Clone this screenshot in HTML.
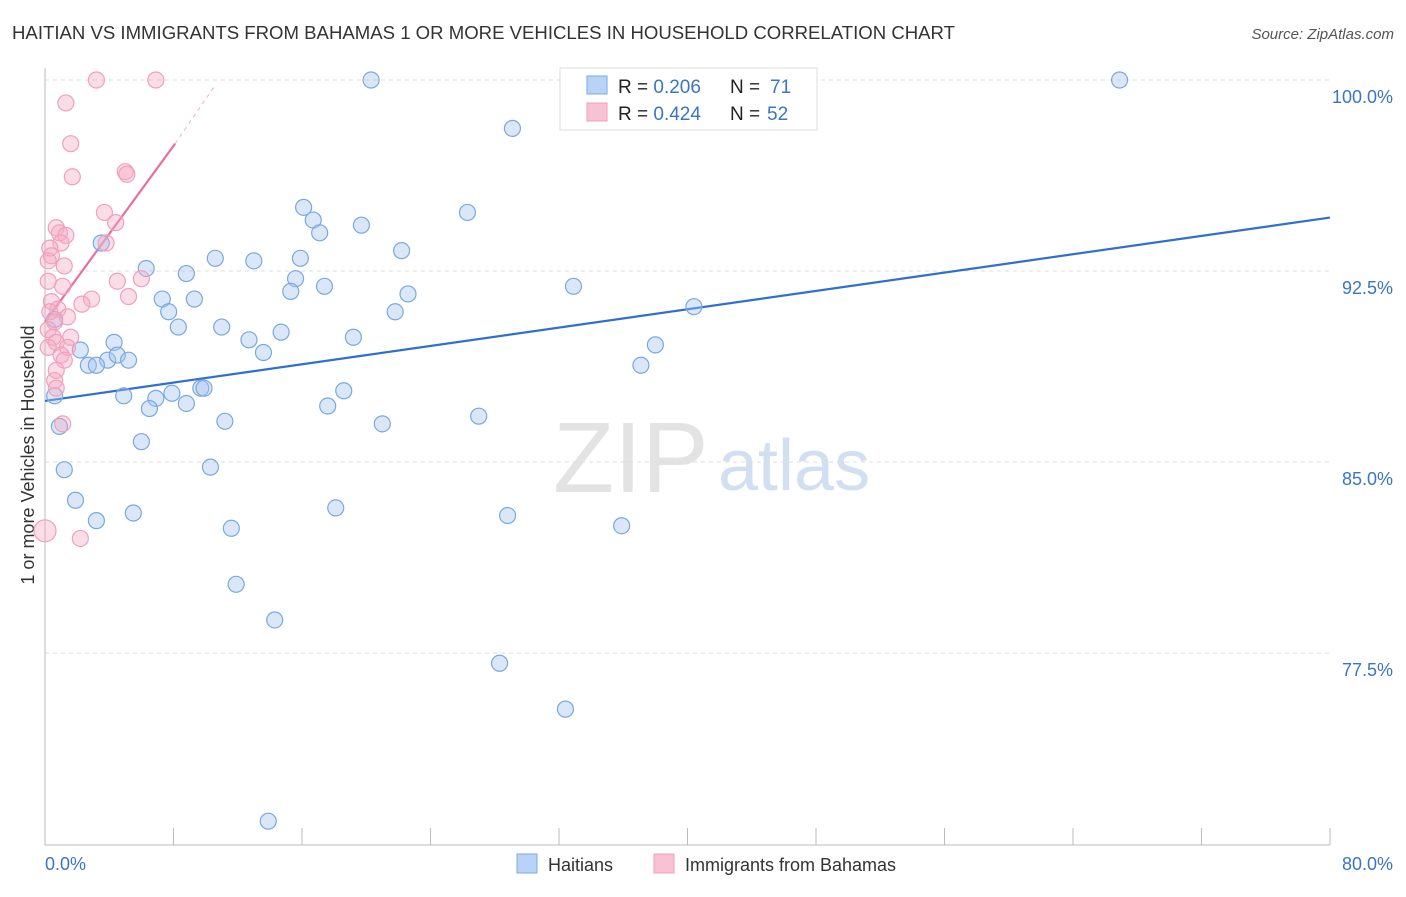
<!DOCTYPE html>
<html><head><meta charset="utf-8"><style>
body{margin:0;background:#fff;font-family:"Liberation Sans",sans-serif;}
svg text{font-family:"Liberation Sans",sans-serif;}
</style></head><body>
<svg id="chart" width="1406" height="892" xmlns="http://www.w3.org/2000/svg">
<text x="12" y="39" font-size="18" fill="#333" textLength="943" lengthAdjust="spacingAndGlyphs">HAITIAN VS IMMIGRANTS FROM BAHAMAS 1 OR MORE VEHICLES IN HOUSEHOLD CORRELATION CHART</text>
<text x="1394" y="39" font-size="15" fill="#555" text-anchor="end" font-style="italic">Source: ZipAtlas.com</text>
<text x="553" y="492" font-size="100" fill="#ddd" font-family="Liberation Serif" opacity="0.8">ZIP</text>
<text x="718" y="490" font-size="72" fill="#c8d8ee" opacity="0.8">atlas</text>
<text transform="translate(34,455) rotate(-90)" font-size="18" fill="#333" text-anchor="middle">1 or more Vehicles in Household</text>
<g id="grid"></g><g id="axes"></g><g id="lines"></g><g id="pts"></g>
<g>
<rect x="560" y="68" width="257" height="62" fill="#fff" stroke="#ddd"/>
<rect x="587" y="76" width="20" height="18" fill="#b8d3f5" stroke="#7aa8e0"/>
<rect x="587" y="103" width="20" height="18" fill="#f9c2d4" stroke="#f0a0bb"/>
<text x="618" y="93" font-size="19" fill="#222">R = <tspan fill="#3a75c4">0.206</tspan></text>
<text x="730" y="93" font-size="19" fill="#222">N =</text>
<text x="770" y="93" font-size="19" fill="#3a75c4">71</text>
<text x="618" y="120" font-size="19" fill="#222">R = <tspan fill="#3a75c4">0.424</tspan></text>
<text x="730" y="120" font-size="19" fill="#222">N =</text>
<text x="767" y="120" font-size="19" fill="#3a75c4">52</text>
</g>
<g>
<rect x="517" y="854" width="20" height="19" fill="#b8d3f5" stroke="#7aa8e0"/>
<text x="548" y="871" font-size="18" fill="#333">Haitians</text>
<rect x="654" y="854" width="20" height="19" fill="#f9c2d4" stroke="#f0a0bb"/>
<text x="685" y="871" font-size="18" fill="#333">Immigrants from Bahamas</text>
</g>
</svg>
<script>
const yTicks=[100,92.5,85,77.5];
const yTickLabels=["100.0%","92.5%","85.0%","77.5%"];
const xTickLabels=["0.0%","80.0%"];
const blueX=[20.3,66.9,29.1,26.3,16.1,16.7,17.1,19.7,22.2,3.5,6.3,8.8,10.6,13.0,15.9,15.6,15.3,17.4,22.6,21.8,32.9,40.4,7.3,9.3,7.7,8.3,11.0,14.7,12.7,13.6,19.2,38.0,37.1,0.6,2.2,4.3,3.9,4.5,5.2,2.7,3.2,0.6,4.9,6.9,7.9,8.8,9.7,9.9,6.5,17.6,18.6,11.2,21.0,27.0,0.9,6.0,10.3,1.2,1.9,3.2,5.5,18.1,28.8,35.9,11.6,11.9,14.3,28.3,32.4,13.9];
const blueY=[100,100,98.1,94.8,95.0,94.5,94.0,94.3,93.3,93.6,92.6,92.4,93.0,92.9,93.0,92.2,91.7,91.9,91.6,90.9,91.9,91.1,91.4,91.4,90.9,90.3,90.3,90.1,89.8,89.3,89.9,89.6,88.8,90.6,89.4,89.7,89.0,89.2,89.0,88.8,88.8,87.6,87.6,87.5,87.7,87.3,87.9,87.9,87.1,87.2,87.8,86.6,86.5,86.8,86.4,85.8,84.8,84.7,83.5,82.7,83.0,83.2,82.9,82.5,82.4,80.2,78.8,77.1,75.3,70.9];
const pinkX=[3.2,6.9,1.3,1.6,1.7,5.0,5.1,3.7,4.4,0.7,0.9,1.3,1.0,3.8,0.3,0.4,0.2,1.2,4.5,6.0,0.2,1.1,5.2,2.9,0.4,2.3,0.8,0.3,1.4,0.6,0.2,0.5,1.6,0.7,0.2,1.4,1.0,1.2,0.7,0.6,0.7,1.1,2.2,0.0];
const pinkY=[100,100,99.1,97.5,96.2,96.4,96.3,94.8,94.4,94.2,94.0,93.9,93.6,93.6,93.4,93.1,92.9,92.7,92.1,92.2,92.1,91.9,91.5,91.4,91.3,91.2,91.0,90.9,90.7,90.5,90.2,89.9,89.9,89.7,89.5,89.5,89.2,89.0,88.6,88.2,87.9,86.5,82.0,82.3];
const blueFit=[[0,87.4],[80,94.6]];
const pinkFit=[[0,90.5],[8.1,97.5]];
const pinkFitExt=[[8.1,97.5],[10.6,99.8]];
const NS="http://www.w3.org/2000/svg";
const X=v=>45+v/80*1285, Y=v=>80+(100-v)*25.47;
function mk(tag,attrs,parent){const e=document.createElementNS(NS,tag);for(const k in attrs)e.setAttribute(k,attrs[k]);document.getElementById(parent).appendChild(e);return e;}
yTicks.forEach((t,i)=>{
 const l=mk('line',{x1:45,x2:1330,y1:Y(t),y2:Y(t),stroke:'#ddd','stroke-dasharray':'4,4'},'grid');
 
 
 const tx=mk('text',{x:1393,y:Y(t)+23,'font-size':18,fill:'#3a75c4','text-anchor':'end'},'axes');
 tx.textContent=yTickLabels[i];
 
 
});
const ax=mk('line',{x1:45,x2:45,y1:68,y2:845,stroke:'#bbb'},'axes');


const bx=mk('line',{x1:45,x2:1330,y1:845,y2:845,stroke:'#bbb'},'axes');


for(let i=0;i<=10;i++){const t=mk('line',{x1:X(i*8),x2:X(i*8),y1:828,y2:845,stroke:'#bbb'},'axes');
 
 }
[[0,45,'start'],[1,1393,'end']].forEach(([i,x,a])=>{const t=mk('text',{x:x,y:870,'font-size':18,fill:'#3a75c4','text-anchor':a},'axes');t.textContent=xTickLabels[i];
 
 });
function line(p,col,w,dash,name){const e=mk('line',{x1:X(p[0][0]),y1:Y(p[0][1]),x2:X(p[1][0]),y2:Y(p[1][1]),stroke:col,'stroke-width':w},'lines');if(dash)e.setAttribute('stroke-dasharray',dash);
 
 }
blueX.forEach((x,i)=>{const c=mk('circle',{cx:X(x),cy:Y(blueY[i]),r:8,fill:'rgba(160,196,240,0.4)',stroke:'#7aa8e0','stroke-width':1.2},'pts');
 
 });
pinkX.forEach((x,i)=>{const c=mk('circle',{cx:X(x),cy:Y(pinkY[i]),r:i==pinkX.length-1?11:8,fill:'rgba(245,170,195,0.4)',stroke:'#f0a0bb','stroke-width':1.2},'pts');
 
 });
line(blueFit,'#2f6fd0',2.2,null,'haitians-trend-line');
line(pinkFit,'#e8709a',2.2,null,'bahamas-trend-line');
line(pinkFitExt,'#f0b0c6',1,'4,4','bahamas-trend-extension');
</script>
</body></html>
